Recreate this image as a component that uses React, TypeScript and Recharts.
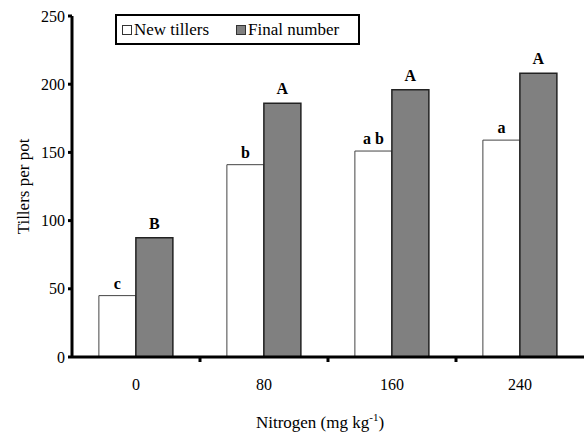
import React from 'react';
import { BarChart, Bar, XAxis, YAxis, Legend, LabelList } from 'recharts';

const categories = ['0', '80', '160', '240'];
const newTillers = [45, 141, 151, 159];
const finalNumber = [87.5, 186, 196, 208];
const newLetters = ['c', 'b', 'a b', 'a'];
const finalLetters = ['B', 'A', 'A', 'A'];
const yTicks = [0, 50, 100, 150, 200, 250];
const seriesNames = ['New tillers', 'Final number'];

const data = categories.map((c, i) => ({
  nitrogen: c,
  newT: newTillers[i],
  finalN: finalNumber[i],
  newL: newLetters[i],
  finalL: finalLetters[i],
}));

const FONT = "'Liberation Serif', 'Times New Roman', serif";

const XTick = (props: any) => {
  const { x, y, payload, index, visibleTicksCount, width } = props;
  const count = visibleTicksCount || categories.length;
  const bw = width / count;
  const axisY = y - 8;
  return (
    <g>
      <text x={x} y={axisY + 33} textAnchor="middle" fontFamily={FONT} fontSize={16} fill="#000">
        {payload.value}
      </text>
      {index < count - 1 && (
        <line x1={x + bw / 2} x2={x + bw / 2} y1={axisY} y2={axisY + 5} stroke="#000" strokeWidth={3} />
      )}
    </g>
  );
};

const renderLegend = (props: any) => {
  const payload = [...(props.payload || [])].sort(
    (a: any, b: any) => seriesNames.indexOf(a.value) - seriesNames.indexOf(b.value)
  );
  return (
    <div
      style={{
        display: 'flex',
        alignItems: 'center',
        border: '2px solid #000',
        boxSizing: 'border-box',
        width: 245,
        height: 31,
        paddingLeft: 5,
        background: '#fff',
        fontFamily: FONT,
        fontSize: 17,
        color: '#000',
      }}
    >
      {payload.map((entry: any, i: number) => (
        <div key={i} style={{ display: 'flex', alignItems: 'center', marginRight: i === 0 ? 27 : 0 }}>
          <span
            style={{
              display: 'inline-block',
              width: 8,
              height: 8,
              background: entry.color,
              border: '1px solid #333',
              marginRight: 2,
            }}
          />
          <span>{entry.value}</span>
        </div>
      ))}
    </div>
  );
};

const YLabel = (props: any) => {
  const { viewBox } = props;
  const cx = 23;
  const cy = viewBox.y + viewBox.height / 2;
  return (
    <text
      x={cx}
      y={cy}
      transform={`rotate(-90 ${cx} ${cy})`}
      textAnchor="middle"
      dominantBaseline="central"
      fontFamily={FONT}
      fontSize={17}
      fill="#000"
    >
      Tillers per pot
    </text>
  );
};

const XLabel = (props: any) => {
  const { viewBox } = props;
  const cx = viewBox.x + viewBox.width / 2 - 8;
  return (
    <text x={cx} y={428} textAnchor="middle" fontFamily={FONT} fontSize={17} fill="#000">
      Nitrogen (mg kg
      <tspan fontSize={11} dy={-7}>-1</tspan>
      <tspan dy={7}>)</tspan>
    </text>
  );
};

export default function App() {
  return (
    <div style={{ position: 'absolute', left: 0, top: 0, width: 584, height: 432, background: '#fff', fontFamily: FONT }}>
      <BarChart
        width={584}
        height={432}
        data={data}
        margin={{ top: 16, right: 0, bottom: 0, left: 0 }}
        barGap={0}
        barCategoryGap="21%"
      >
        <XAxis
          dataKey="nitrogen"
          height={75}
          axisLine={{ stroke: '#000', strokeWidth: 3 }}
          tickLine={false}
          tick={<XTick />}
          interval={0}
          label={<XLabel />}
        />
        <YAxis
          width={72}
          domain={[0, 250]}
          ticks={yTicks}
          interval={0}
          axisLine={{ stroke: '#000', strokeWidth: 3 }}
          tickLine={{ stroke: '#000', strokeWidth: 3 }}
          tickSize={4}
          tickMargin={3}
          tick={{ fontFamily: FONT, fontSize: 16, fill: '#000' }}
          label={<YLabel />}
        />
        <Legend
          layout="horizontal"
          verticalAlign="middle"
          align="center"
          content={renderLegend}
          wrapperStyle={{ top: 14, left: 115, width: 245, height: 31 }}
        />
        <Bar dataKey="newT" name={seriesNames[0]} fill="#ffffff" stroke="#444" strokeWidth={1} isAnimationActive={false}>
          <LabelList dataKey="newL" position="top" offset={7} fontFamily={FONT} fontSize={16} fontWeight="bold" fill="#000" />
        </Bar>
        <Bar dataKey="finalN" name={seriesNames[1]} fill="#808080" stroke="#222" strokeWidth={1.5} isAnimationActive={false}>
          <LabelList dataKey="finalL" position="top" offset={9} fontFamily={FONT} fontSize={16} fontWeight="bold" fill="#000" />
        </Bar>
      </BarChart>
    </div>
  );
}
